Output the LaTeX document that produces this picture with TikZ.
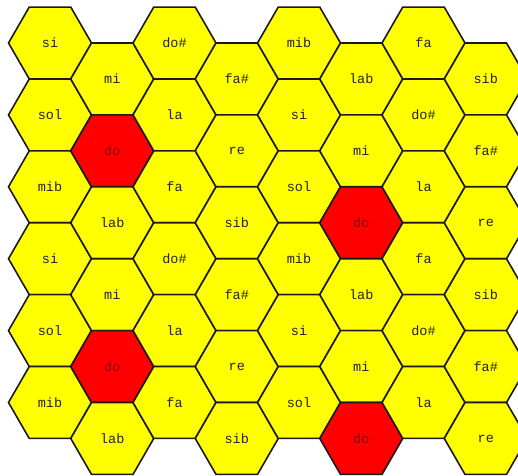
\documentclass[tikz,border=0pt]{standalone}
\usepackage{fontspec}
\newfontfamily\hexfont{Liberation Mono}
\usetikzlibrary{shapes.geometric}
\definecolor{hexyellow}{HTML}{FFFF00}
\definecolor{hexred}{HTML}{FF0000}
\definecolor{hexline}{HTML}{1A1A1A}
\definecolor{hextext}{HTML}{222222}
\definecolor{hexredtext}{HTML}{8A0000}
\tikzset{
  hexbase/.style={regular polygon, regular polygon sides=6, minimum size=83pt,
    inner sep=0pt, outer sep=0pt, draw=hexline, line width=1.6pt,
    font=\hexfont\fontsize{13.5}{13.5}\selectfont},
  yhex/.style={hexbase, fill=hexyellow, text=hextext},
  rhex/.style={hexbase, fill=hexred, text=hexredtext}
}
\newcommand\hexcell[5]{\node[#5] (#1) at ({50+62.25*#2},{432-71.9*#3}) {#4};}
\begin{document}
\begin{tikzpicture}[x=1pt,y=1pt]
\useasboundingbox (0,0) rectangle (518,475);
\clip (0,0) rectangle (518,475);
% column 0
\hexcell{h00}{0}{0}{si}{yhex}
\hexcell{h01}{0}{1}{sol}{yhex}
\hexcell{h02}{0}{2}{mib}{yhex}
\hexcell{h03}{0}{3}{si}{yhex}
\hexcell{h04}{0}{4}{sol}{yhex}
\hexcell{h05}{0}{5}{mib}{yhex}
% column 1
\hexcell{h10}{1}{0.5}{mi}{yhex}
\hexcell{h11}{1}{1.5}{do}{rhex}
\hexcell{h12}{1}{2.5}{lab}{yhex}
\hexcell{h13}{1}{3.5}{mi}{yhex}
\hexcell{h14}{1}{4.5}{do}{rhex}
\hexcell{h15}{1}{5.5}{lab}{yhex}
% column 2
\hexcell{h20}{2}{0}{do\#}{yhex}
\hexcell{h21}{2}{1}{la}{yhex}
\hexcell{h22}{2}{2}{fa}{yhex}
\hexcell{h23}{2}{3}{do\#}{yhex}
\hexcell{h24}{2}{4}{la}{yhex}
\hexcell{h25}{2}{5}{fa}{yhex}
% column 3
\hexcell{h30}{3}{0.5}{fa\#}{yhex}
\hexcell{h31}{3}{1.5}{re}{yhex}
\hexcell{h32}{3}{2.5}{sib}{yhex}
\hexcell{h33}{3}{3.5}{fa\#}{yhex}
\hexcell{h34}{3}{4.5}{re}{yhex}
\hexcell{h35}{3}{5.5}{sib}{yhex}
% column 4
\hexcell{h40}{4}{0}{mib}{yhex}
\hexcell{h41}{4}{1}{si}{yhex}
\hexcell{h42}{4}{2}{sol}{yhex}
\hexcell{h43}{4}{3}{mib}{yhex}
\hexcell{h44}{4}{4}{si}{yhex}
\hexcell{h45}{4}{5}{sol}{yhex}
% column 5
\hexcell{h50}{5}{0.5}{lab}{yhex}
\hexcell{h51}{5}{1.5}{mi}{yhex}
\hexcell{h52}{5}{2.5}{do}{rhex}
\hexcell{h53}{5}{3.5}{lab}{yhex}
\hexcell{h54}{5}{4.5}{mi}{yhex}
\hexcell{h55}{5}{5.5}{do}{rhex}
% column 6
\hexcell{h60}{6}{0}{fa}{yhex}
\hexcell{h61}{6}{1}{do\#}{yhex}
\hexcell{h62}{6}{2}{la}{yhex}
\hexcell{h63}{6}{3}{fa}{yhex}
\hexcell{h64}{6}{4}{do\#}{yhex}
\hexcell{h65}{6}{5}{la}{yhex}
% column 7
\hexcell{h70}{7}{0.5}{sib}{yhex}
\hexcell{h71}{7}{1.5}{fa\#}{yhex}
\hexcell{h72}{7}{2.5}{re}{yhex}
\hexcell{h73}{7}{3.5}{sib}{yhex}
\hexcell{h74}{7}{4.5}{fa\#}{yhex}
\hexcell{h75}{7}{5.5}{re}{yhex}
\end{tikzpicture}
\end{document}
